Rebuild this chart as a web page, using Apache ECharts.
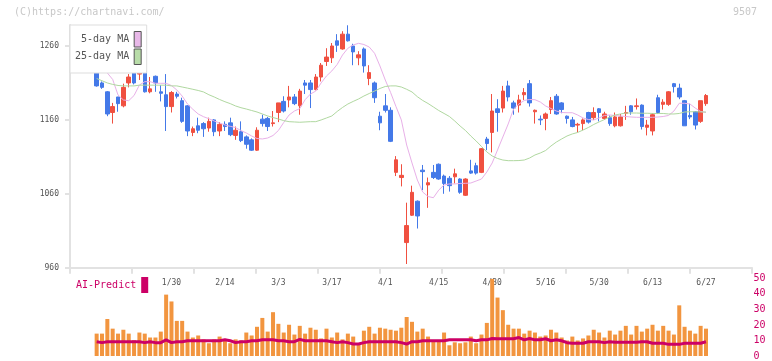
<!DOCTYPE html>
<html>
<head>
<meta charset="utf-8">
<script src="https://cdn.jsdelivr.net/npm/echarts@6/dist/echarts.min.js"></script>
<style>
html,body{margin:0;padding:0;background:#fff;}
#chart{width:772px;height:361px;}
</style>
</head>
<body>
<div id="chart"></div>
<script>
// ---- data ----
const dates = [
 '1/8','1/9','1/10','1/14','1/15','1/16','1/17','1/20','1/21','1/22','1/23','1/24','1/27','1/28','1/29','1/30','1/31',
 '2/3','2/4','2/5','2/6','2/7','2/10','2/12','2/13','2/14','2/17','2/18','2/19','2/20','2/21','2/25','2/26','2/27','2/28',
 '3/3','3/4','3/5','3/6','3/7','3/10','3/11','3/12','3/13','3/14','3/17','3/18','3/19','3/21','3/24','3/25','3/26','3/27','3/28','3/31',
 '4/1','4/2','4/3','4/4','4/7','4/8','4/9','4/10','4/11','4/14','4/15','4/16','4/17','4/18','4/21','4/22','4/23','4/24','4/25','4/28','4/30',
 '5/1','5/2','5/7','5/8','5/9','5/12','5/13','5/14','5/15','5/16','5/19','5/20','5/21','5/22','5/23','5/26','5/27','5/28','5/29','5/30',
 '6/2','6/3','6/4','6/5','6/6','6/9','6/10','6/11','6/12','6/13','6/16','6/17','6/18','6/19','6/20','6/23','6/24','6/25','6/26','6/27'
];
const openP = [1232,1229,1210,1198,1170,1191,1179,1210,1230,1222,1226,1198,1219,1198,1194,1178,1195,1186,1179,1143,
 1152,1155,1149,1160,1145,1154,1156,1139,1144,1137,1133,1119,1161,1162,1155,1170,1185,1187,1191,1179,
 1210,1210,1201,1218,1239,1244,1267,1256,1276,1260,1244,1256,1216,1210,1165,1179,1173,1089,1082,994,
 1031,1050,1092,1072,1089,1100,1084,1081,1083,1080,1058,1091,1098,1089,1134,1143,1175,1176,1206,1183,
 1180,1194,1209,1171,1161,1162,1174,1192,1183,1165,1160,1153,1155,1170,1163,1175,1162,1163,1152,1152,
 1169,1179,1178,1180,1150,1145,1190,1181,1181,1209,1203,1186,1166,1171,1158,1182];
const closeP = [1233,1206,1204,1168,1178,1182,1204,1218,1210,1229,1198,1202,1210,1196,1178,1197,1192,1158,1145,1148,
 1146,1148,1158,1144,1154,1151,1140,1146,1132,1127,1119,1146,1155,1151,1156,1183,1172,1191,1182,1199,
 1207,1201,1218,1234,1245,1260,1261,1276,1267,1252,1248,1233,1224,1190,1156,1173,1131,1106,1085,1017,
 1062,1030,1090,1075,1082,1080,1074,1071,1087,1062,1080,1088,1088,1121,1128,1172,1170,1199,1191,1176,
 1187,1197,1183,1173,1160,1168,1186,1168,1174,1162,1151,1154,1160,1157,1170,1170,1168,1155,1164,1164,
 1170,1171,1179,1151,1153,1167,1170,1184,1198,1205,1191,1152,1164,1153,1186,1193];
const lowP = [1232,1205,1202,1165,1155,1171,1177,1204,1208,1214,1197,1196,1198,1185,1145,1170,1189,1156,1138,1138,
 1142,1137,1144,1138,1138,1145,1138,1133,1130,1121,1118,1118,1151,1145,1151,1157,1170,1177,1180,1167,
 1195,1176,1200,1212,1233,1237,1252,1255,1266,1234,1234,1224,1207,1183,1146,1170,1130,1084,1070,965,
 1030,1013,1065,1041,1080,1079,1060,1063,1074,1060,1057,1087,1086,1088,1119,1116,1144,1170,1185,1167,
 1170,1187,1178,1155,1153,1146,1168,1167,1169,1155,1150,1143,1146,1155,1160,1158,1160,1152,1150,1151,
 1160,1167,1174,1147,1139,1139,1168,1174,1179,1197,1188,1152,1161,1147,1156,1179];
const highP = [1233,1230,1212,1199,1183,1191,1209,1222,1231,1237,1229,1218,1220,1207,1222,1199,1198,1190,1180,1151,
 1163,1157,1163,1161,1157,1158,1163,1151,1158,1139,1135,1150,1167,1164,1172,1183,1192,1206,1195,1202,
 1214,1214,1222,1237,1257,1264,1276,1280,1288,1263,1253,1258,1234,1212,1171,1195,1177,1111,1100,1048,
 1071,1051,1099,1082,1099,1101,1086,1084,1094,1081,1081,1106,1102,1122,1137,1195,1188,1206,1213,1186,
 1194,1203,1214,1174,1166,1170,1191,1195,1184,1166,1164,1156,1162,1171,1177,1176,1171,1166,1170,1168,
 1179,1180,1189,1181,1160,1169,1194,1188,1199,1210,1209,1187,1182,1172,1186,1195];
const ma5 = [null,1229,1229,1223.5,1214.7,1193.7,1187,1186,1193,1207.2,1211.7,1211.7,1209.5,1209.5,1209.5,1206.5,1200.5,1192.3,1181.5,1174.3,
 1168,1164.3,1161.6,1158.5,1155.8,1153.1,1151.3,1149.6,1145.6,1142.3,1138.2,1134.8,1134.2,1135.5,1138.9,1145.6,1156.5,1166.6,1172,1175.2,
 1187.3,1195,1199,1210,1219.4,1226.2,1235,1247.8,1256.9,1261.4,1263.6,1262,1258.6,1250.1,1233,1214,1197,1178.1,1160,1126,
 1101.7,1078.7,1062.4,1056.3,1054.7,1065,1072,1073.3,1073.3,1074,1074.2,1074.6,1077.3,1080,1089.5,1101.7,1119.3,1136.9,1154.5,1174.7,
 1181.5,1186.3,1187.6,1187.3,1184.2,1178.8,1175.4,1172,1170,1169.7,1169.7,1166.6,1162.6,1160.5,1159.9,1162.6,1166,1166.6,1166,1165.3,
 1164.6,1163.9,1163.5,1163.5,1163.5,1163.5,1163.9,1164.6,1166,1172,1182.5,1182.5,1181.5,1176,1171.4,1170];
const ma25 = [null,1216,1213,1210,1208,1206.6,1206,1206,1206,1207,1207,1207,1207,1207,1207,1206,1206,1204.5,1203,1201.4,
 1199.8,1197.8,1194,1191,1187.6,1184.6,1182,1178.8,1176.5,1174.7,1172.7,1170.7,1168,1165.3,1163.2,1161.2,1159,1157.6,1157.2,1156.8,
 1157.2,1157.6,1157.6,1159.9,1162.6,1165.3,1171.4,1176.8,1181.5,1185,1188.3,1192.3,1195.7,1199,1202.5,1205.2,1206,1206,1204.5,1201.4,
 1197.8,1191.4,1186.3,1182.2,1177.5,1172.7,1168.7,1164.6,1158.5,1151.7,1145.7,1138.2,1131.4,1124,1116.6,1111.2,1107.8,1105.7,1104.8,1104.8,
 1105,1105.7,1108.4,1112.5,1115.2,1118.6,1124.7,1130,1134.2,1138.2,1141,1143,1146.3,1149.7,1153.8,1157.2,1160.5,1163.9,1166.6,1168,
 1169.3,1169.3,1169.3,1169,1169,1168.7,1168.7,1168.7,1168,1168,1168.7,1170.7,1171,1171,1170.7,1170.7];
const volume = [null,14.4,14.4,23.8,17.6,14.4,16.9,14.4,10.2,15.1,14.4,11.9,11.9,15.7,39.5,35.1,22.6,22.6,15.7,11.9,
 13.2,10.7,8.2,10.7,12.5,10.0,8.2,10.7,10.0,15.1,13.2,18.8,24.5,15.7,28.2,20.7,15.1,20.1,13.8,19.4,
 14.4,18.2,16.9,11.3,17.6,11.9,15.1,10.7,14.4,12.5,7.5,16.3,18.8,14.4,18.2,17.6,16.9,16.3,18.2,25.1,
 22.0,15.7,17.6,12.5,10.0,10.0,15.1,6.9,8.8,8.2,8.8,12.5,8.2,13.8,21.3,49.6,37.6,29.5,20.1,17.6,
 17.6,14.4,16.3,15.1,12.5,13.2,16.9,15.1,11.9,10.0,12.5,10.0,11.3,13.2,16.9,15.1,11.9,16.3,13.8,16.3,
 19.4,13.8,19.4,15.7,17.6,20.1,16.3,19.4,16.3,13.8,32.6,18.8,16.3,14.4,19.4,17.6];
const aiPredict = [null,9.2,8.6,9.2,9.2,9.2,9.2,9.2,9.2,9.2,8.6,9.2,8.6,8.6,10.4,8.6,9.2,9.2,9.8,9.8,
 9.8,9.8,9.8,9.8,9.8,10.4,9.8,8.6,9.2,9.2,9.8,9.8,10.4,10.4,10.4,9.8,9.8,9.2,9.2,10.7,
 9.8,9.8,9.8,9.8,9.8,9.2,8.6,9.2,8.6,7.7,7.7,8.6,9.2,9.2,9.2,9.2,9.2,9.2,8.6,7.7,
 9.2,9.2,9.8,9.8,9.8,9.8,9.8,10.4,10.4,10.4,10.4,10.4,9.8,10.4,10.4,11.3,11.1,11.1,11.1,11.1,
 11.9,10.4,11.3,10.4,10.4,11.1,9.8,10.4,9.8,8.6,8.2,8.2,8.2,9.2,9.2,9.2,8.6,9.2,8.8,8.8,
 8.8,8.8,8.8,9.2,9.2,8.2,8.2,8.2,7.5,7.5,7.5,8.2,8.2,8.2,8.2,9.2];
const priceTicks = [960, 1060, 1160, 1260];
const volTicks = [0, 10, 20, 30, 40, 50];
const labelStart = 15, labelEvery = 10;

// ---- chart ----
const MONO = '"DejaVu Sans Mono", monospace';
const AXIS = '#e2e2e2';
const candles = dates.map((d, i) => [openP[i], closeP[i], lowP[i], highP[i]]);

const gridTop = 25, gridBottom = 93.3;
const candLeft = 88.63, candRight = 63.35;

const chart = echarts.init(document.getElementById('chart'), null, {renderer: 'canvas'});
chart.setOption({
  animation: false,
  backgroundColor: '#fff',
  textStyle: {fontFamily: MONO},
  graphic: [
    {type: 'text', left: 14, top: 7, style: {text: '(C)https://chartnavi.com/', fill: '#c8c8c8', font: '10px ' + MONO}},
    {type: 'text', right: 15, top: 7, style: {text: '9507', fill: '#c8c8c8', font: '10px ' + MONO}}
  ],
  legend: [
    {
      data: ['5-day MA', '25-day MA'],
      orient: 'vertical', left: 70, top: 25, align: 'right',
      padding: [6, 5, 8, 5], itemGap: 1, itemWidth: 7, itemHeight: 15.5,
      icon: 'rect', backgroundColor: '#fff', borderColor: '#dddddd', borderWidth: 1,
      itemStyle: {borderColor: '#555', borderWidth: 1},
      formatter: n => n.padStart(9, ' '),
      textStyle: {fontFamily: MONO, fontSize: 10, color: '#555'},
      selectedMode: false
    },
    {
      data: ['AI-Predict'],
      left: 76, top: 277, align: 'right', padding: 0,
      itemWidth: 7, itemHeight: 16, icon: 'rect',
      textStyle: {fontFamily: MONO, fontSize: 10, color: '#cc0066'},
      selectedMode: false
    }
  ],
  grid: [
    {left: 70, right: 20, top: gridTop, bottom: gridBottom},
    {left: candLeft, right: candRight, top: gridTop, bottom: gridBottom},
    {left: candLeft, right: candRight, top: 278.3, bottom: 3}
  ],
  xAxis: [
    {gridIndex: 0, type: 'value', min: 0, max: 11, interval: 1,
     axisLine: {show: true, lineStyle: {color: AXIS, width: 2}},
     axisTick: {show: true, length: 6, lineStyle: {color: AXIS, width: 2}},
     axisLabel: {show: false}, splitLine: {show: false}},
    {gridIndex: 1, type: 'category', data: dates, boundaryGap: true,
     axisLine: {show: false}, axisTick: {show: false}, splitLine: {show: false},
     axisLabel: {
       interval: (idx) => idx >= labelStart && (idx - labelStart) % labelEvery === 0,
       margin: 11, fontSize: 8, fontFamily: MONO, color: '#555'
     }},
    {gridIndex: 2, type: 'category', data: dates, boundaryGap: true, show: false}
  ],
  yAxis: [
    {gridIndex: 0, type: 'value', min: priceTicks[0], max: 1288.4, interval: priceTicks[1] - priceTicks[0],
     axisLine: {show: true, lineStyle: {color: AXIS, width: 2}},
     axisTick: {show: true, length: 5, lineStyle: {color: AXIS, width: 2}},
     axisLabel: {margin: 11, fontSize: 8, fontFamily: MONO, color: '#555', showMaxLabel: false,
                 formatter: v => String(v)},
     splitLine: {show: false}},
    {gridIndex: 1, type: 'value', min: priceTicks[0], max: 1288.4, show: false},
    {gridIndex: 2, type: 'value', min: volTicks[0], max: volTicks[volTicks.length - 1], interval: volTicks[1] - volTicks[0],
     position: 'right', offset: 43.35,
     axisLine: {show: false}, axisTick: {show: false}, splitLine: {show: false},
     axisLabel: {margin: 1.5, fontSize: 10, fontFamily: MONO, color: '#cc0066', formatter: v => String(v)}}
  ],
  series: [
    {name: 'price', type: 'candlestick', xAxisIndex: 1, yAxisIndex: 1, data: candles,
     barWidth: 4,
     itemStyle: {color: '#f05040', color0: '#4479e8', borderColor: '#f05040', borderColor0: '#4479e8', borderWidth: 1}},
    {name: '5-day MA', type: 'line', xAxisIndex: 1, yAxisIndex: 1, data: ma5, symbol: 'none',
     lineStyle: {color: '#e8b0e8', width: 1}, itemStyle: {color: '#e8b8e8'}, z: 3},
    {name: '25-day MA', type: 'line', xAxisIndex: 1, yAxisIndex: 1, data: ma25, symbol: 'none',
     lineStyle: {color: '#b0d8a0', width: 1}, itemStyle: {color: '#b8dca8'}, z: 3},
    {name: 'volume', type: 'bar', xAxisIndex: 2, yAxisIndex: 2, data: volume, barWidth: 4,
     itemStyle: {color: '#f2953f'}},
    {name: 'AI-Predict', type: 'line', xAxisIndex: 2, yAxisIndex: 2, data: aiPredict, symbol: 'none',
     lineStyle: {color: '#cc0066', width: 3}, itemStyle: {color: '#cc0066'}, z: 5}
  ]
});
</script>
</body>
</html>
